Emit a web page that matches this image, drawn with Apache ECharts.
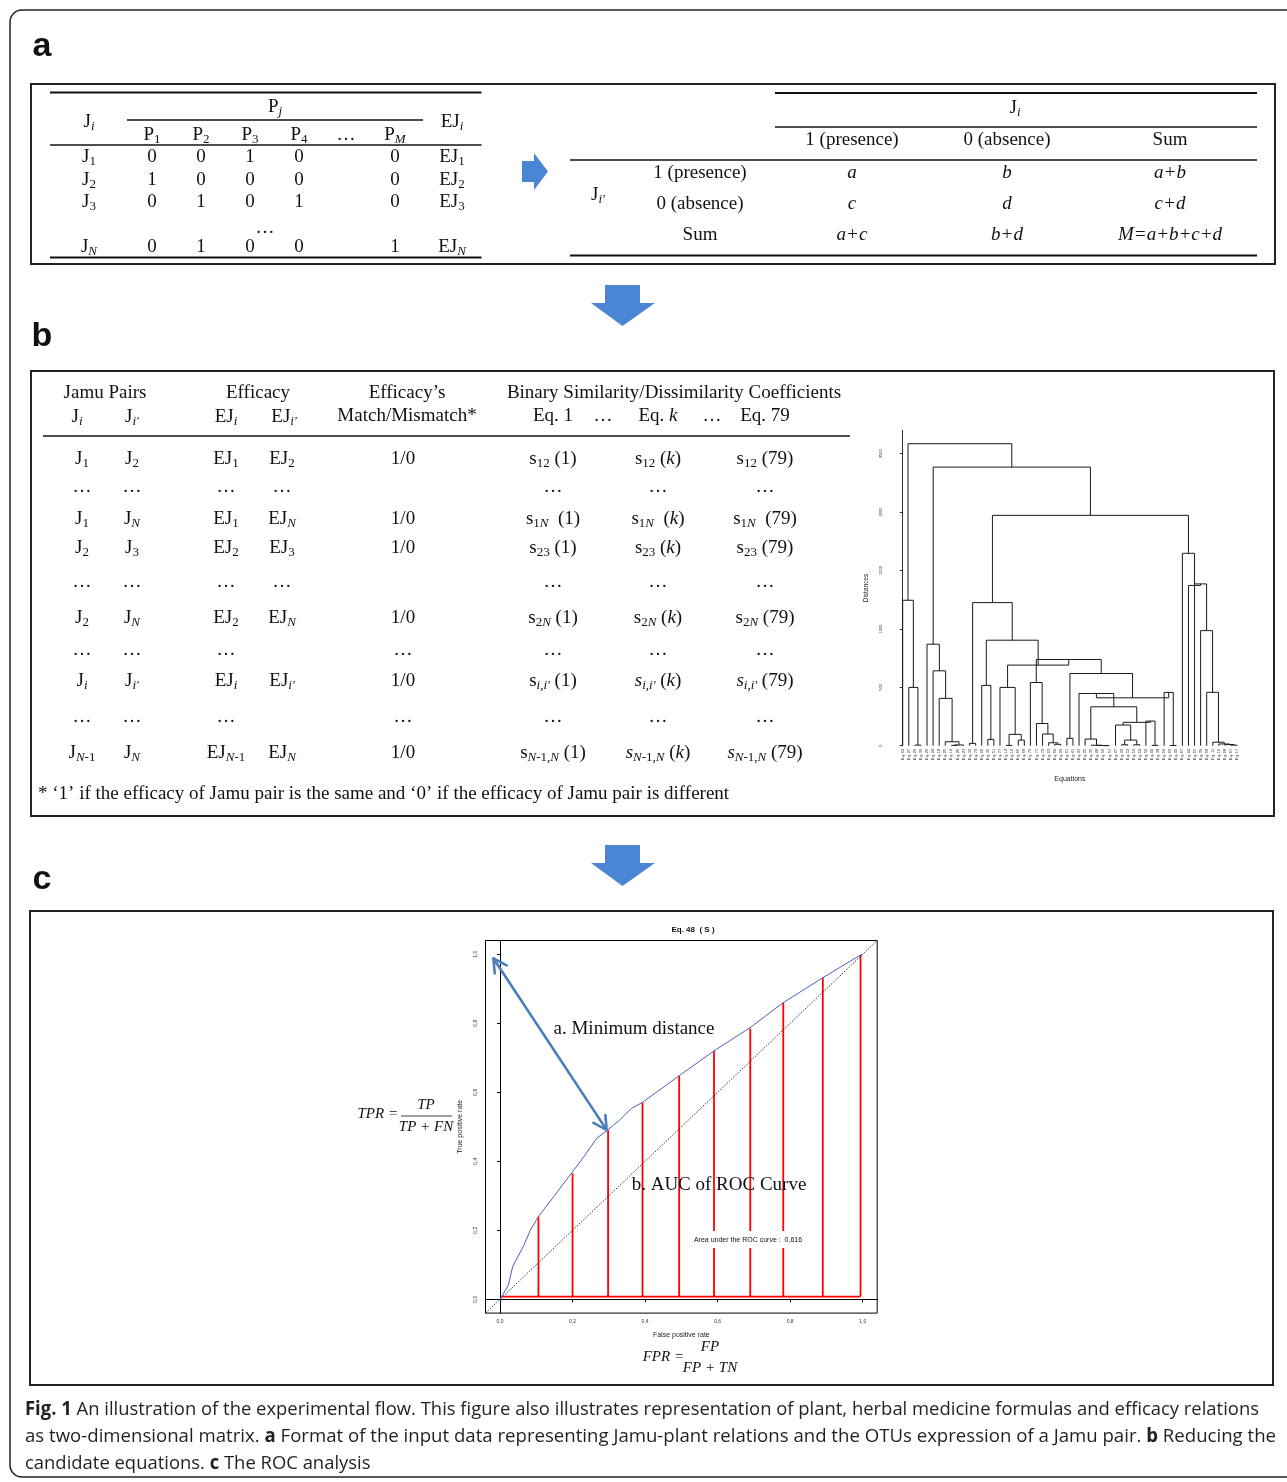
<!DOCTYPE html>
<html>
<head>
<meta charset="utf-8">
<script src="https://cdn.jsdelivr.net/npm/echarts@6/dist/echarts.min.js"></script>
<style>
html, body { margin: 0; padding: 0; background: #fff; }
#main { width: 1287px; height: 1482px; }
</style>
</head>
<body>
<div id="main"></div>
<script>
// ---- panel a : plant matrix + contingency table ----
const jamuRows = ['1', '2', '3', 'N'];
const plantCols = ['1', '2', '3', '4', '…', 'M'];
const plantMatrix = [[0, 0, 1, 0, 0], [1, 0, 0, 0, 0], [0, 1, 0, 1, 0], [0, 1, 0, 0, 1]];
const contHead = ['1 (presence)', '0 (absence)', 'Sum'];
const contRows = ['1 (presence)', '0 (absence)', 'Sum'];
const contCells = [['a', 'b', 'a+b'], ['c', 'd', 'c+d'], ['a+c', 'b+d', 'M=a+b+c+d']];

// ---- panel b : jamu pair table ----
const pairRows = [
    ['J_{1}', 'J_{2}', 'EJ_{1}', 'EJ_{2}', '1/0', 's_{12} (1)', 's_{12} (~k~)', 's_{12} (79)'],
    ['…', '…', '…', '…', '', '…', '…', '…'],
    ['J_{1}', 'J_{N}', 'EJ_{1}', 'EJ_{N}', '1/0', 's_{1N}  (1)', 's_{1N}  (~k~)', 's_{1N}  (79)'],
    ['J_{2}', 'J_{3}', 'EJ_{2}', 'EJ_{3}', '1/0', 's_{23} (1)', 's_{23} (~k~)', 's_{23} (79)'],
    ['…', '…', '…', '…', '', '…', '…', '…'],
    ['J_{2}', 'J_{N}', 'EJ_{2}', 'EJ_{N}', '1/0', 's_{2N} (1)', 's_{2N} (~k~)', 's_{2N} (79)'],
    ['…', '…', '…', '', '…', '…', '…', '…'],
    ['J_{i}', "J_{i'}", 'EJ_{i}', "EJ_{i'}", '1/0', "s_{i,i'} (1)", "~s~_{i,i'} (~k~)", "~s~_{i,i'} (79)"],
    ['…', '…', '…', '', '…', '…', '…', '…'],
    ['J_{N-1}', 'J_{N}', 'EJ_{N-1}', 'EJ_{N}', '1/0', 's_{N-1,N} (1)', '~s~_{N-1,N} (~k~)', '~s~_{N-1,N} (79)']
];
const pairRowY = [459, 487, 519, 548, 582, 618, 650, 681, 717, 753];
const pairColX = [82, 132, 226, 282, 403, 553, 658, 765];

// ---- dendrogram of the 56 retained equations ----
const leafLabels = ['Eq. 62', 'Eq. 27', 'Eq. 29', 'Eq. 30', 'Eq. 26', 'Eq. 24', 'Eq. 18', 'Eq. 25', 'Eq. 19', 'Eq. 20',
    'Eq. 23', 'Eq. 34', 'Eq. 74', 'Eq. 06', 'Eq. 36', 'Eq. 51', 'Eq. 77', 'Eq. 12', 'Eq. 14', 'Eq. 66',
    'Eq. 68', 'Eq. 76', 'Eq. 71', 'Eq. 72', 'Eq. 63', 'Eq. 69', 'Eq. 49', 'Eq. 61', 'Eq. 41', 'Eq. 43',
    'Eq. 45', 'Eq. 35', 'Eq. 48', 'Eq. 50', 'Eq. 57', 'Eq. 47', 'Eq. 42', 'Eq. 52', 'Eq. 53', 'Eq. 54',
    'Eq. 56', 'Eq. 44', 'Eq. 38', 'Eq. 59', 'Eq. 60', 'Eq. 40', 'Eq. 67', 'Eq. 64', 'Eq. 65', 'Eq. 39',
    'Eq. 58', 'Eq. 11', 'Eq. 16', 'Eq. 08', 'Eq. 07', 'Eq. 17'];
// hclust style: negative = leaf (1-based, plot order), positive = earlier merge, then height
const merges = [
    [-3, -4, 5], [-2, 1, 499], [-1, 2, 1245], [-9, -10, 3], [4, -11, 6],
    [-8, 5, 34], [-7, 6, 405], [-6, 7, 641], [-5, 8, 869], [-12, -13, 20],
    [-15, -16, 54], [-14, 11, 516], [-18, -19, 3], [-20, -21, 48], [13, 14, 97],
    [-17, 15, 499], [-26, -27, 12], [-25, 17, 25], [-24, 18, 100], [-23, 19, 190],
    [-22, 20, 541], [-28, -29, 63], [-34, -35, 1], [-33, 23, 2], [-32, 24, 4],
    [-31, 25, 57], [-37, -38, 8], [-39, -40, 8], [27, 28, 48], [-36, 29, 177],
    [-42, -43, 3], [-41, 31, 211], [30, 32, 200], [26, 33, 333], [-30, 34, 447],
    [-45, -46, 2], [-44, 36, 456], [35, 37, 410], [22, 38, 618], [21, 39, 738],
    [16, 40, 690], [12, 41, 903], [10, 42, 1225], [-55, -56, 5], [-54, 44, 10],
    [-53, 45, 15], [-52, 46, 30], [-51, 47, 457], [-50, 48, 985], [-49, 49, 1385],
    [-48, 50, 1372], [-47, 51, 1647], [43, 52, 1972], [9, 53, 2385], [3, 54, 2585]
];
const distTicks = [0, 500, 1000, 1500, 2000, 2500];

// ---- ROC curve, Eq. 48 (S) ----
const rocFpr = [0, 0.023, 0.035, 0.05, 0.066, 0.083, 0.106, 0.15, 0.198, 0.225, 0.267, 0.297, 0.33, 0.363, 0.393, 0.494, 0.59, 0.689, 0.781, 0.89, 0.994, 1];
const rocTpr = [0, 0.041, 0.095, 0.125, 0.157, 0.199, 0.24, 0.30, 0.367, 0.404, 0.467, 0.491, 0.52, 0.554, 0.571, 0.648, 0.72, 0.787, 0.86, 0.932, 0.998, 1];
const aucStripX = [0.106, 0.2, 0.298, 0.393, 0.494, 0.59, 0.69, 0.781, 0.89, 0.994];
const aucStripTop = [0.24, 0.365, 0.49, 0.571, 0.648, 0.72, 0.785, 0.86, 0.932, 0.998];
const aucBase = 0.008;
const rocTicks = [0, 0.2, 0.4, 0.6, 0.8, 1.0];
const minDistArrow = [-0.018, 0.988, 0.294, 0.491];

const SERIF = '"Liberation Serif", "Times New Roman", serif';
const SANS = '"Liberation Sans", Arial, sans-serif';
const CAP = '"Open Sans", sans-serif';
const INK = '#111';

const TABLE_RICH = {
    m: { fontFamily: SERIF, fontSize: 19, lineHeight: 22, fill: INK },
    i: { fontFamily: SERIF, fontSize: 19, lineHeight: 22, fontStyle: 'italic', fill: INK },
    s: { fontFamily: SERIF, fontSize: 13, lineHeight: 10, verticalAlign: 'bottom', fill: INK },
    si: { fontFamily: SERIF, fontSize: 13, lineHeight: 10, verticalAlign: 'bottom', fontStyle: 'italic', fill: INK }
};

// tiny markup: X_{sub} and ~italic~
function rich(str) {
    let out = '';
    const re = /_\{([^}]*)\}|~([^~]+)~|([^_~]+)/g;
    let m;
    while ((m = re.exec(str))) {
        if (m[1] !== undefined) {
            m[1].match(/[A-Za-z'\-]+|[^A-Za-z'\-]+/g).forEach(function (p) {
                out += (/[A-Za-z]/.test(p) ? '{si|' : '{s|') + p + '}';
            });
        } else if (m[2] !== undefined) out += '{i|' + m[2] + '}';
        else out += '{m|' + m[3] + '}';
    }
    return out;
}

const g = [];
function T(x, y, text, o) {
    o = o || {};
    const al = o.align || 'center';
    const size = o.size || 19, family = o.family || SERIF;
    const st = o.italic ? 'italic' : 'normal', wt = o.bold ? 'bold' : 'normal';
    g.push({
        type: 'text', x: x, y: y, z: o.z || 10, scaleX: o.sx || 1, silent: true,
        style: {
            text: text, fill: o.color || INK,
            font: st + ' ' + wt + ' ' + size + 'px ' + family,
            fontSize: size, fontFamily: family, fontStyle: st, fontWeight: wt,
            align: al, textAlign: al, verticalAlign: 'middle', textVerticalAlign: 'middle', rich: o.rich
        }
    });
}
function cell(x, y, str) { if (str) T(x, y, rich(str), { rich: TABLE_RICH }); }
function L(x1, y1, x2, y2, w, c) {
    g.push({ type: 'line', silent: true, shape: { x1: x1, y1: y1, x2: x2, y2: y2 }, style: { stroke: c || INK, lineWidth: w || 1.5 } });
}
function box(x, y, w, h, lw, r) {
    g.push({ type: 'rect', silent: true, shape: { x: x, y: y, width: w, height: h, r: r || 0 }, style: { stroke: '#222', fill: 'none', lineWidth: lw } });
}
function blockArrow(pts) {
    g.push({ type: 'polygon', silent: true, shape: { points: pts }, style: { fill: '#4a86d4', stroke: 'none' } });
}

// frame and panels
box(10, 10, 1300, 1467, 1.5, 12);
box(31, 84, 1244, 180, 2);
box(31, 371, 1243, 445, 2);
box(30, 911, 1243, 474, 2);
T(42, 47, 'a', { family: SANS, bold: true, size: 34 });
T(42, 337, 'b', { family: SANS, bold: true, size: 34 });
T(42, 880, 'c', { family: SANS, bold: true, size: 34 });

// panel a, left table
L(50, 92.5, 481.5, 92.5, 2);
L(127, 120, 423, 120, 1.5);
L(50, 145, 481.5, 145, 1.5);
L(50, 257.5, 481.5, 257.5, 2);
const colX = [152, 201, 250, 299, 346, 395];
cell(89, 122, 'J_{i}');
cell(275, 107, 'P_{j}');
cell(452, 122, 'EJ_{i}');
plantCols.forEach(function (c, k) { cell(colX[k], 135, c === '…' ? '…' : 'P_{' + c + '}'); });
const matY = [157, 180, 202, 247];
jamuRows.forEach(function (r, i) {
    cell(89, matY[i], 'J_{' + r + '}');
    plantMatrix[i].forEach(function (v, k) { cell(colX[k < 4 ? k : 5], matY[i], String(v)); });
    cell(452, matY[i], 'EJ_{' + r + '}');
});
cell(265, 228, '…');

// panel a, arrow + contingency table
blockArrow([[522, 161], [534, 161], [534, 153], [548, 171.5], [534, 190], [534, 182], [522, 182]]);
L(775, 93, 1257, 93, 2);
L(775, 127, 1257, 127, 1.5);
L(570, 160, 1257, 160, 1.5);
L(570, 255.5, 1257, 255.5, 2);
cell(1015, 108, 'J_{i}');
const contX = [852, 1007, 1170];
const contY = [173, 204, 235];
contHead.forEach(function (h, k) { cell(contX[k], 140, h); });
cell(598, 195, "J_{i'}");
contRows.forEach(function (r, i) {
    cell(700, contY[i], r);
    contCells[i].forEach(function (v, k) { cell(contX[k], contY[i], '~' + v + '~'); });
});

blockArrow([[605, 285], [640, 285], [640, 303], [655, 303], [622.5, 326], [591, 303], [605, 303]]);
blockArrow([[605, 845], [640, 845], [640, 863], [655, 863], [622.5, 886], [591, 863], [605, 863]]);

// panel b table
cell(105, 393, 'Jamu Pairs');
cell(77, 417, 'J_{i}');
cell(132, 417, "J_{i'}");
cell(258, 393, 'Efficacy');
cell(226, 417, 'EJ_{i}');
cell(284, 417, "EJ_{i'}");
cell(407, 393, 'Efficacy’s');
cell(407, 416, 'Match/Mismatch*');
cell(674, 393, 'Binary Similarity/Dissimilarity Coefficients');
cell(553, 416, 'Eq. 1');
cell(603, 416, '…');
cell(658, 416, 'Eq. ~k~');
cell(712, 416, '…');
cell(765, 416, 'Eq. 79');
L(43, 436, 850, 436, 1.5);
pairRows.forEach(function (row, i) {
    row.forEach(function (c, k) { cell(pairColX[k], pairRowY[i], c); });
});
T(38, 794, '* ‘1’ if the efficacy of Jamu pair is the same and ‘0’ if the efficacy of Jamu pair is different', { align: 'left' });

// panel c text around the ROC plot
T(693, 930, 'Eq. 48  ( S )', { family: SANS, bold: true, size: 8 });
T(634, 1029, 'a. Minimum distance', { size: 19 });
T(719, 1185, 'b. AUC of ROC Curve', { size: 19 });
g.push({ type: 'rect', z: 9, silent: true, shape: { x: 693, y: 1231, width: 117, height: 17 }, style: { fill: '#fff', stroke: 'none' } });
T(748, 1240, 'Area under the ROC curve :  0,616', { family: SANS, size: 7 });
T(398, 1114, 'TPR =', { italic: true, size: 15, align: 'right' });
T(426, 1105, 'TP', { italic: true, size: 15 });
L(401, 1116, 452, 1116, 0.8);
T(426, 1127, 'TP + FN', { italic: true, size: 15 });
T(684, 1357, 'FPR =', { italic: true, size: 15, align: 'right' });
T(710, 1347, 'FP', { italic: true, size: 15 });
T(710, 1368, 'FP + TN', { italic: true, size: 15 });

// caption, squeezed to the justified width of the original
const captionLines = [
    [['Fig. 1', 1], [' An illustration of the experimental flow. This figure also illustrates representation of plant, herbal medicine formulas and efficacy relations', 0]],
    [['as two-dimensional matrix. ', 0], ['a', 1], [' Format of the input data representing Jamu-plant relations and the OTUs expression of a Jamu pair. ', 0], ['b', 1], [' Reducing the', 0]],
    [['candidate equations. ', 0], ['c', 1], [' The ROC analysis', 0]]
];
const captionWidth = [1234, 1251, 0];
const mctx = document.createElement('canvas').getContext('2d');
function partsWidth(parts) {
    return parts.reduce(function (s, p) {
        mctx.font = (p[1] ? 'bold ' : '') + '19px "Open Sans"';
        return s + mctx.measureText(p[0]).width;
    }, 0);
}
const capScale = captionWidth[0] / partsWidth(captionLines[0]);
captionLines.forEach(function (parts, i) {
    const sx = captionWidth[i] ? captionWidth[i] / partsWidth(parts) : capScale;
    const text = parts.map(function (p) { return '{' + (p[1] ? 'b' : 'n') + '|' + p[0] + '}'; }).join('');
    T(25, 1410 + i * 27, text, {
        align: 'left', sx: sx, family: CAP, rich: {
            n: { fontFamily: CAP, fontSize: 19, fill: '#231f20' },
            b: { fontFamily: CAP, fontSize: 19, fontWeight: 'bold', fill: '#231f20' }
        }
    });
});

// dendrogram segments from the merge table
const nodeX = [], nodeH = [];
const dendroSegs = merges.map(function (mg, i) {
    const l = mg[0], r = mg[1];
    const xl = l < 0 ? -l - 1 : nodeX[l - 1], hl = l < 0 ? 0 : nodeH[l - 1];
    const xr = r < 0 ? -r - 1 : nodeX[r - 1], hr = r < 0 ? 0 : nodeH[r - 1];
    nodeX[i] = (xl + xr) / 2;
    nodeH[i] = mg[2];
    return [xl, hl, xr, hr, mg[2]];
});

const tickFmt = function (v) { return v.toFixed(1).replace('.', ','); };

const chart = echarts.init(document.getElementById('main'));
chart.setOption({
    animation: false,
    backgroundColor: '#fff',
    graphic: { elements: g },
    grid: [
        { left: 902.7, top: 430.3, width: 334.4, height: 315.4 },
        { left: 485.5, top: 940.5, width: 391.7, height: 372.6, show: true, borderColor: '#000', borderWidth: 1 }
    ],
    xAxis: [
        { type: 'value', gridIndex: 0, min: 0, max: leafLabels.length - 1, show: false, position: 'top' },
        {
            type: 'category', gridIndex: 0, position: 'bottom', data: leafLabels, boundaryGap: false,
            axisLine: { show: false }, axisTick: { show: false },
            axisLabel: { interval: 0, rotate: 90, fontSize: 4, margin: 3, color: '#333', fontFamily: SANS },
            name: 'Equations', nameLocation: 'middle', nameGap: 30,
            nameTextStyle: { fontSize: 7, color: '#222', fontFamily: SANS }
        },
        {
            type: 'value', gridIndex: 1, min: -0.04, max: 1.04, position: 'bottom',
            axisLine: { lineStyle: { color: '#000', width: 1 } },
            axisTick: { customValues: rocTicks, length: 3, lineStyle: { color: '#000' } },
            axisLabel: { customValues: rocTicks, formatter: tickFmt, fontSize: 5, margin: 6, color: '#333', fontFamily: SANS },
            splitLine: { show: false },
            name: 'False positive rate', nameLocation: 'middle', nameGap: 18,
            nameTextStyle: { fontSize: 7, color: '#222', fontFamily: SANS }
        }
    ],
    yAxis: [
        {
            type: 'value', gridIndex: 0, min: 0, max: 2700, offset: 15.4,
            axisLine: { show: true, lineStyle: { color: '#333', width: 1 } },
            axisTick: { show: true, customValues: distTicks, length: 3, lineStyle: { color: '#333' } },
            axisLabel: { customValues: distTicks, formatter: function (v) { return String(v); }, rotate: 90, fontSize: 4, margin: 4, color: '#333', fontFamily: SANS },
            splitLine: { show: false },
            name: 'Distances', nameLocation: 'middle', nameRotate: 90, nameGap: 18,
            nameTextStyle: { fontSize: 6.5, color: '#222', fontFamily: SANS }
        },
        {
            type: 'value', gridIndex: 1, min: -0.04, max: 1.04,
            axisLine: { lineStyle: { color: '#000', width: 1 } },
            axisTick: { customValues: rocTicks, length: 3, lineStyle: { color: '#000' } },
            axisLabel: { customValues: rocTicks, formatter: tickFmt, rotate: 90, fontSize: 5, margin: 7, color: '#333', fontFamily: SANS },
            splitLine: { show: false },
            name: 'True positive rate', nameLocation: 'middle', nameRotate: 90, nameGap: 22,
            nameTextStyle: { fontSize: 7, color: '#222', fontFamily: SANS }
        }
    ],
    series: [
        {
            name: 'dendrogram', type: 'custom', xAxisIndex: 0, yAxisIndex: 0, silent: true,
            data: dendroSegs, encode: { x: [0, 2], y: [1, 3, 4] },
            renderItem: function (params, api) {
                const a = api.coord([api.value(0), api.value(1)]);
                const b = api.coord([api.value(0), api.value(4)]);
                const c = api.coord([api.value(2), api.value(4)]);
                const d = api.coord([api.value(2), api.value(3)]);
                return { type: 'polyline', shape: { points: [a, b, c, d] }, style: { stroke: '#1a1a1a', lineWidth: 1, fill: null } };
            }
        },
        {
            name: 'chance', type: 'line', xAxisIndex: 2, yAxisIndex: 1, silent: true, symbol: 'none',
            data: [[-0.04, -0.04], [1.04, 1.04]],
            lineStyle: { color: '#000', width: 0.8, type: [1.5, 1.5] }
        },
        {
            name: 'AUC strips', type: 'custom', xAxisIndex: 2, yAxisIndex: 1, silent: true, z: 3,
            data: aucStripX.map(function (x, i) { return [x, aucBase, aucStripTop[i]]; }),
            encode: { x: 0, y: [1, 2] },
            renderItem: function (params, api) {
                const p = api.coord([api.value(0), api.value(1)]);
                const q = api.coord([api.value(0), api.value(2)]);
                return { type: 'line', shape: { x1: p[0], y1: p[1], x2: q[0], y2: q[1] }, style: { stroke: '#ff0000', lineWidth: 1.8 } };
            }
        },
        {
            name: 'AUC base', type: 'line', xAxisIndex: 2, yAxisIndex: 1, silent: true, symbol: 'none', z: 3,
            data: [[0.005, aucBase], [aucStripX[aucStripX.length - 1], aucBase]],
            lineStyle: { color: '#ff0000', width: 1.8 }
        },
        {
            name: 'ROC', type: 'line', xAxisIndex: 2, yAxisIndex: 1, silent: true, symbol: 'none', z: 4,
            data: rocFpr.map(function (x, i) { return [x, rocTpr[i]]; }),
            lineStyle: { color: '#4c5fc0', width: 1 }
        },
        {
            name: 'minimum distance', type: 'custom', xAxisIndex: 2, yAxisIndex: 1, silent: true, z: 5,
            data: [minDistArrow], encode: { x: [0, 2], y: [1, 3] },
            renderItem: function (params, api) {
                const p = api.coord([api.value(0), api.value(1)]);
                const q = api.coord([api.value(2), api.value(3)]);
                const len = Math.hypot(q[0] - p[0], q[1] - p[1]);
                const ux = (q[0] - p[0]) / len, uy = (q[1] - p[1]) / len;
                const head = function (tip, dx, dy) {
                    const L = 15, t = 0.5;
                    const c = Math.cos(t), s = Math.sin(t);
                    return [
                        [tip[0] - L * (dx * c - dy * s), tip[1] - L * (dx * s + dy * c)],
                        tip,
                        [tip[0] - L * (dx * c + dy * s), tip[1] - L * (-dx * s + dy * c)]
                    ];
                };
                const st = { stroke: '#4a7ebb', lineWidth: 2.6, fill: null, lineCap: 'round', lineJoin: 'round' };
                return {
                    type: 'group', children: [
                        { type: 'line', shape: { x1: p[0], y1: p[1], x2: q[0], y2: q[1] }, style: st },
                        { type: 'polyline', shape: { points: head(q, ux, uy) }, style: st },
                        { type: 'polyline', shape: { points: head(p, -ux, -uy) }, style: st }
                    ]
                };
            }
        }
    ]
});
</script>
</body>
</html>
